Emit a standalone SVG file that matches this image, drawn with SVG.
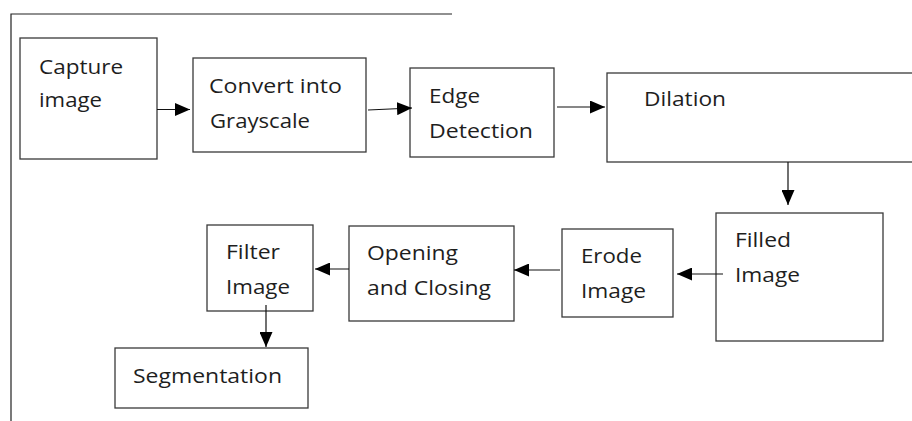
<svg xmlns="http://www.w3.org/2000/svg" width="912" height="421" viewBox="0 0 912 421">
  <style>
    .box { fill: #ffffff; stroke: #3a3a3a; stroke-width: 1.3; }
    .frame { fill: none; stroke: #222222; stroke-width: 1.2; }
    .lbl { font-family: "Open Sans", "Noto Sans", "Liberation Sans", sans-serif; font-size: 20px; fill: #1e1e1e; }
    .edge { fill: none; stroke: #111111; stroke-width: 1.2; marker-end: url(#arrow); }
  </style>
  <defs>
    <marker id="arrow" viewBox="0 0 15 13" refX="15" refY="6.5" markerWidth="15" markerHeight="13" markerUnits="userSpaceOnUse" orient="auto">
      <path d="M0,0 L15,6.5 L0,13 Z" fill="#000000"/>
    </marker>
  </defs>
  <rect width="912" height="421" fill="#ffffff"/>

  <!-- page frame -->
  <path class="frame" d="M452,14 H11 V421"/>

  <g id="capture">
    <rect class="box" x="20" y="38" width="137" height="121"/>
    <text class="lbl" x="39" y="74" textLength="84" lengthAdjust="spacingAndGlyphs">Capture</text>
    <text class="lbl" x="39" y="107" textLength="63" lengthAdjust="spacingAndGlyphs">image</text>
  </g>

  <g id="grayscale">
    <rect class="box" x="193" y="58" width="173" height="94"/>
    <text class="lbl" x="209" y="93" textLength="133" lengthAdjust="spacingAndGlyphs">Convert into</text>
    <text class="lbl" x="210" y="128" textLength="100" lengthAdjust="spacingAndGlyphs">Grayscale</text>
  </g>

  <g id="edge-detection">
    <rect class="box" x="410" y="68" width="144" height="89"/>
    <text class="lbl" x="429" y="103" textLength="51" lengthAdjust="spacingAndGlyphs">Edge</text>
    <text class="lbl" x="429" y="138" textLength="104" lengthAdjust="spacingAndGlyphs">Detection</text>
  </g>

  <g id="dilation">
    <rect class="box" x="607" y="73" width="310" height="89"/>
    <text class="lbl" x="644" y="106" textLength="82" lengthAdjust="spacingAndGlyphs">Dilation</text>
  </g>

  <g id="filled">
    <rect class="box" x="716" y="213" width="167" height="128"/>
    <text class="lbl" x="735" y="247" textLength="56" lengthAdjust="spacingAndGlyphs">Filled</text>
    <text class="lbl" x="735" y="282" textLength="65" lengthAdjust="spacingAndGlyphs">Image</text>
  </g>

  <g id="erode">
    <rect class="box" x="562" y="229" width="111" height="88"/>
    <text class="lbl" x="581" y="263" textLength="61" lengthAdjust="spacingAndGlyphs">Erode</text>
    <text class="lbl" x="581" y="298" textLength="65" lengthAdjust="spacingAndGlyphs">Image</text>
  </g>

  <g id="opening-closing">
    <rect class="box" x="349" y="226" width="165" height="95"/>
    <text class="lbl" x="367" y="260" textLength="91" lengthAdjust="spacingAndGlyphs">Opening</text>
    <text class="lbl" x="367" y="295" textLength="124" lengthAdjust="spacingAndGlyphs">and Closing</text>
  </g>

  <g id="filter">
    <rect class="box" x="207" y="225" width="106" height="86"/>
    <text class="lbl" x="226" y="259" textLength="54" lengthAdjust="spacingAndGlyphs">Filter</text>
    <text class="lbl" x="226" y="294" textLength="64" lengthAdjust="spacingAndGlyphs">Image</text>
  </g>

  <g id="segmentation">
    <rect class="box" x="115" y="348" width="193" height="60"/>
    <text class="lbl" x="133" y="383" textLength="149" lengthAdjust="spacingAndGlyphs">Segmentation</text>
  </g>

  <g id="connectors">
    <line class="edge" x1="157" y1="109.5" x2="190" y2="109.5"/>
    <line class="edge" x1="368" y1="110" x2="412" y2="108"/>
    <line class="edge" x1="557" y1="107" x2="605" y2="107"/>
    <line class="edge" x1="788" y1="162" x2="788" y2="205"/>
    <line class="edge" x1="723" y1="274" x2="677" y2="274"/>
    <line class="edge" x1="560" y1="270" x2="514" y2="270"/>
    <line class="edge" x1="349" y1="269" x2="315" y2="269"/>
    <line class="edge" x1="266" y1="305" x2="266" y2="347"/>
  </g>
</svg>
